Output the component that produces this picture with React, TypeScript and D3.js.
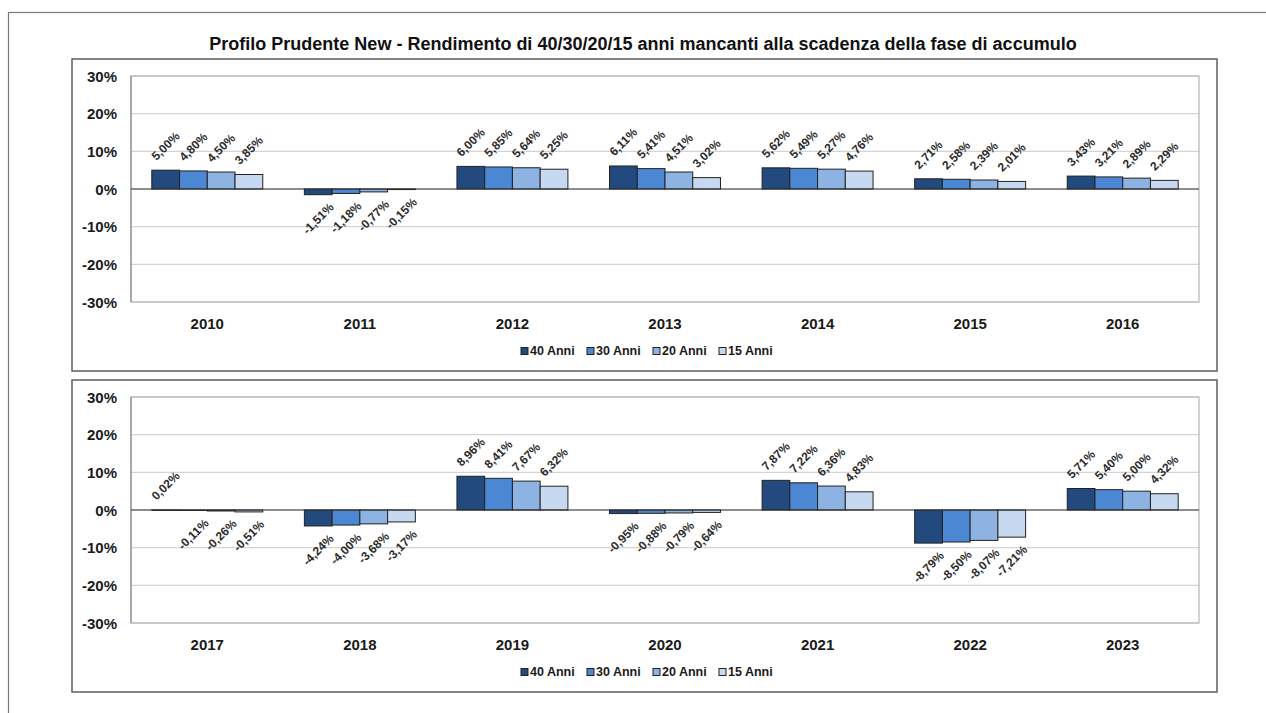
import React from "react";
import * as d3 from "d3";

// Annual returns (%) by horizon, one value per year
const years = [2010, 2011, 2012, 2013, 2014, 2015, 2016, 2017, 2018, 2019, 2020, 2021, 2022, 2023];
const anni40 = [5.0, -1.51, 6.0, 6.11, 5.62, 2.71, 3.43, 0.02, -4.24, 8.96, -0.95, 7.87, -8.79, 5.71];
const anni30 = [4.8, -1.18, 5.85, 5.41, 5.49, 2.58, 3.21, -0.11, -4.0, 8.41, -0.88, 7.22, -8.5, 5.4];
const anni20 = [4.5, -0.77, 5.64, 4.51, 5.27, 2.39, 2.89, -0.26, -3.68, 7.67, -0.79, 6.36, -8.07, 5.0];
const anni15 = [3.85, -0.15, 5.25, 3.02, 4.76, 2.01, 2.29, -0.51, -3.17, 6.32, -0.64, 4.83, -7.21, 4.32];

const seriesNames = ["40 Anni", "30 Anni", "20 Anni", "15 Anni"];
const seriesValues = [anni40, anni30, anni20, anni15];
const seriesColors = ["#224a7f", "#4b87d3", "#8db3e2", "#c6d9f1"];
const yTicks = [30, 20, 10, 0, -10, -20, -30];

const title =
  "Profilo Prudente New - Rendimento di 40/30/20/15 anni mancanti alla scadenza della fase di accumulo";

const FONT = "'Liberation Sans', Arial, sans-serif";
// Italian style: comma decimal separator, ASCII hyphen for negatives
const fmtPct = (v: number) =>
  d3.format(".2f")(v).replace("\u2212", "-").replace(".", ",") + "%";

type PanelProps = { top: number; from: number; to: number };

function Panel({ top, from, to }: PanelProps) {
  const panelX = 72;
  const panelW = 1145;
  const plotLeft = 131;
  const plotRight = 1199;
  const plotTop = top + 17;
  const plotBottom = plotTop + 226;
  const panelH = plotBottom - top + 69;

  const cats = years.slice(from, to).map(String);
  const x = d3.scaleBand<string>().domain(cats).range([plotLeft, plotRight]).paddingInner(0).paddingOuter(0);
  const y = d3.scaleLinear().domain([-30, 30]).range([plotBottom, plotTop]);
  const groupW = x.bandwidth() * (4 / 5.5);
  const sub = d3
    .scaleBand<number>()
    .domain([0, 1, 2, 3])
    .range([(x.bandwidth() - groupW) / 2, (x.bandwidth() + groupW) / 2]);

  const legendStep = 66;
  const legendStart = 640 - (legendStep * seriesNames.length) / 2 + 22;
  const legendY = plotBottom + 49;

  return (
    <g>
      <rect x={panelX} y={top} width={panelW} height={panelH} fill="#fff" stroke="#5e5e5e" strokeWidth={1.5} />
      {/* gridlines */}
      {yTicks.map((t) => (
        <line key={"g" + t} x1={plotLeft} x2={plotRight} y1={y(t)} y2={y(t)} stroke="#d4d4d4" strokeWidth={1.2} />
      ))}
      <rect x={plotLeft} y={plotTop} width={plotRight - plotLeft} height={plotBottom - plotTop} fill="none" stroke="#b5b5b5" strokeWidth={1.2} />
      <line x1={plotLeft} x2={plotLeft} y1={plotTop} y2={plotBottom} stroke="#8c8c8c" strokeWidth={1.2} />
      {/* y tick labels */}
      {yTicks.map((t) => (
        <text key={"t" + t} x={117} y={y(t)} textAnchor="end" dominantBaseline="central" fontFamily={FONT} fontWeight="bold" fontSize={15} fill="#1a1a1a">
          {t + "%"}
        </text>
      ))}
      {/* bars */}
      {cats.map((c, ci) =>
        seriesValues.map((vals, si) => {
          const v = vals[from + ci];
          const bx = (x(c) as number) + (sub(si) as number);
          const y0 = y(0);
          const yv = y(v);
          return (
            <rect
              key={c + "-" + si}
              x={bx}
              y={Math.min(y0, yv)}
              width={sub.bandwidth()}
              height={Math.max(Math.abs(yv - y0), 0.5)}
              fill={seriesColors[si]}
              stroke="#222"
              strokeWidth={1}
            />
          );
        })
      )}
      <line x1={plotLeft} x2={plotRight} y1={y(0)} y2={y(0)} stroke="#333" strokeWidth={1.2} />
      {/* data labels */}
      {cats.map((c, ci) =>
        seriesValues.map((vals, si) => {
          const v = vals[from + ci];
          const cx = (x(c) as number) + (sub(si) as number) + sub.bandwidth() / 2;
          const cy = v >= 0 ? y(v) - 24 : y(v) + 24;
          return (
            <text
              key={"l" + c + "-" + si}
              transform={`translate(${cx},${cy}) rotate(-45)`}
              textAnchor="middle"
              dominantBaseline="central"
              fontFamily={FONT}
              fontWeight="bold"
              fontSize={12}
              fill="#2b2b2b"
            >
              {fmtPct(v)}
            </text>
          );
        })
      )}
      {/* category labels */}
      {cats.map((c) => (
        <text key={"c" + c} x={(x(c) as number) + x.bandwidth() / 2} y={plotBottom + 21} textAnchor="middle" dominantBaseline="central" fontFamily={FONT} fontWeight="bold" fontSize={15} fill="#1a1a1a">
          {c}
        </text>
      ))}
      {/* legend */}
      {seriesNames.map((n, i) => {
        const lx = legendStart + i * legendStep;
        return (
          <g key={"lg" + n}>
            <rect x={lx - 9} y={legendY - 3.5} width={7} height={7} fill={seriesColors[i]} stroke="#222" strokeWidth={1} />
            <text x={lx} y={legendY} dominantBaseline="central" fontFamily={FONT} fontWeight="bold" fontSize={12.5} fill="#1a1a1a">
              {n}
            </text>
          </g>
        );
      })}
    </g>
  );
}

export default function App() {
  return (
    <svg width={1266} height={713} style={{ position: "absolute", left: 0, top: 0, display: "block" }}>
      <rect x={0} y={0} width={1266} height={713} fill="#fff" />
      <rect x={8.5} y={12.5} width={1400} height={800} fill="none" stroke="#7a7a7a" strokeWidth={1.2} />
      <text x={643} y={44} textAnchor="middle" dominantBaseline="central" fontFamily={FONT} fontWeight="bold" fontSize={18} fill="#111">
        {title}
      </text>
      <Panel top={59} from={0} to={7} />
      <Panel top={380} from={7} to={14} />
    </svg>
  );
}
